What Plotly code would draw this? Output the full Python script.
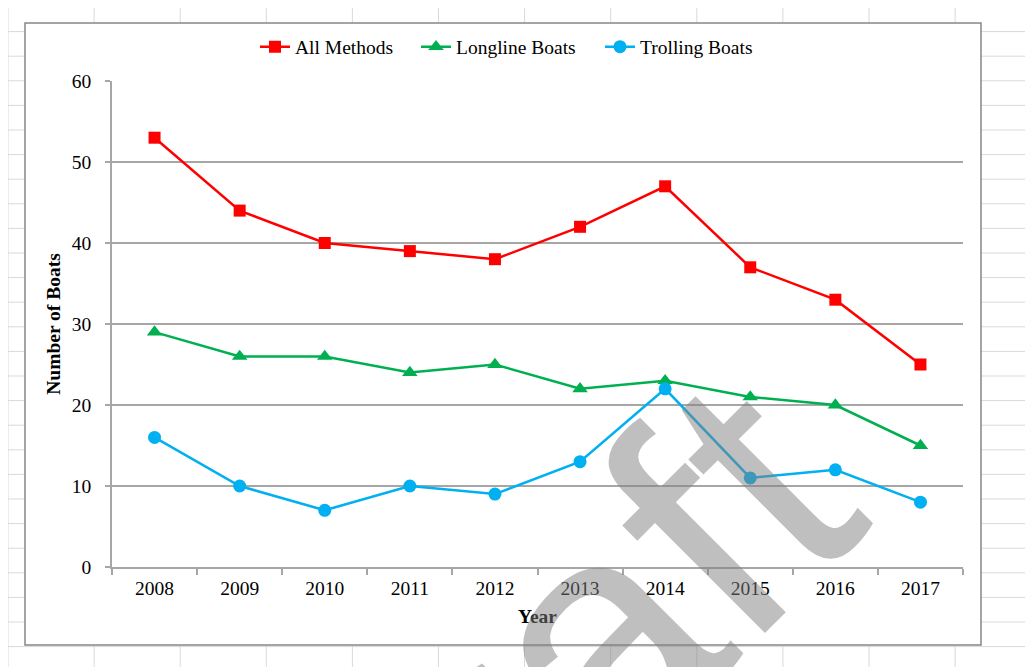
import plotly.graph_objects as go

years = ["2008", "2009", "2010", "2011", "2012", "2013", "2014", "2015", "2016", "2017"]
all_methods = [53, 44, 40, 39, 38, 42, 47, 37, 33, 25]
longline = [29, 26, 26, 24, 25, 22, 23, 21, 20, 15]
trolling = [16, 10, 7, 10, 9, 13, 22, 11, 12, 8]

# page offset (default body margin) and screen geometry
OFF = 8
SW, SH = 1033, 667
W, H = SW - OFF, SH - OFF
PL, PR, PT, PB = 112, 963, 81, 567  # plot area in screen pixels


def px(x):
    return (x - PL) / (PR - PL)


def py(y):
    return (PB - y) / (PB - PT)


FONT = "Liberation Serif, Times New Roman, serif"
FS = 19.5

fig = go.Figure()
fig.add_trace(go.Scatter(x=years, y=all_methods, name="All Methods", mode="lines+markers",
                         line=dict(color="#FF0000", width=2.5),
                         marker=dict(symbol="square", size=12, color="#FF0000"),
                         legend="legend"))
fig.add_trace(go.Scatter(x=years, y=longline, name="Longline Boats", mode="lines+markers",
                         line=dict(color="#00B050", width=2.5),
                         marker=dict(symbol="triangle-up", size=13.5, color="#00B050"),
                         legend="legend2"))
fig.add_trace(go.Scatter(x=years, y=trolling, name="Trolling Boats", mode="lines+markers",
                         line=dict(color="#00B0F0", width=2.5),
                         marker=dict(symbol="circle", size=13, color="#00B0F0"),
                         legend="legend3"))

shapes = []
grid_col = "#d9d9d9"
cx = 8.0
while cx < SW:
    shapes.append(dict(type="line", xref="paper", yref="paper", x0=px(cx), x1=px(cx),
                       y0=py(0), y1=py(SH), line=dict(color=grid_col, width=1), layer="below"))
    cx += 86.1
ry = 7.0
while ry < SH:
    shapes.append(dict(type="line", xref="paper", yref="paper", x0=px(0), x1=px(SW),
                       y0=py(ry), y1=py(ry), line=dict(color=grid_col, width=1), layer="below"))
    ry += 24.6
shapes.append(dict(type="rect", xref="paper", yref="paper", x0=px(25), x1=px(981),
                   y0=py(645), y1=py(23), fillcolor="white",
                   line=dict(color="#878787", width=1.5), layer="below"))


def leg(xs):
    return dict(orientation="h", x=px(xs), xanchor="left", y=py(47), yanchor="middle",
                font=dict(family=FONT, size=FS, color="black"),
                bgcolor="rgba(0,0,0,0)", itemwidth=30)


fig.update_layout(
    width=W, height=H,
    margin=dict(l=PL - OFF, r=W - (PR - OFF), t=PT - OFF, b=H - (PB - OFF)),
    paper_bgcolor="white", plot_bgcolor="rgba(0,0,0,0)",
    font=dict(family=FONT, size=FS, color="black"),
    shapes=shapes,
    showlegend=True,
    legend=leg(255), legend2=leg(416), legend3=leg(600),
    xaxis=dict(type="category", tickson="boundaries", showgrid=False,
               range=[-0.5, len(years) - 0.5],
               showline=True, linecolor="#a6a6a6", linewidth=1.5,
               ticks="outside", ticklen=6, tickcolor="#a6a6a6", tickwidth=1.5,
               ticklabelstandoff=3,
               tickfont=dict(family=FONT, size=FS, color="black"),
               title=dict(text="<b>Year</b>", font=dict(family=FONT, size=FS, color="black"), standoff=11),
               zeroline=False, automargin=False),
    yaxis=dict(range=[0, 60], dtick=10, showgrid=True, gridcolor="#a6a6a6", gridwidth=1.5,
               showline=True, linecolor="#a6a6a6", linewidth=1.5,
               ticks="outside", ticklen=5, tickcolor="#a6a6a6", tickwidth=1.5,
               ticklabelstandoff=10,
               tickfont=dict(family=FONT, size=FS, color="black"),
               title=dict(text="<b>Number of Boats</b>", font=dict(family=FONT, size=FS, color="black"), standoff=6),
               zeroline=False, automargin=False),
    annotations=[dict(text="Draft", xref="paper", yref="paper", x=px(537), y=py(697),
                      xanchor="center", yanchor="middle",
                      showarrow=False, textangle=-45,
                      font=dict(family="Liberation Sans, Arial, sans-serif", size=335,
                                color="rgba(128,128,128,0.5)"))],
)

fig.write_html("out.html")
